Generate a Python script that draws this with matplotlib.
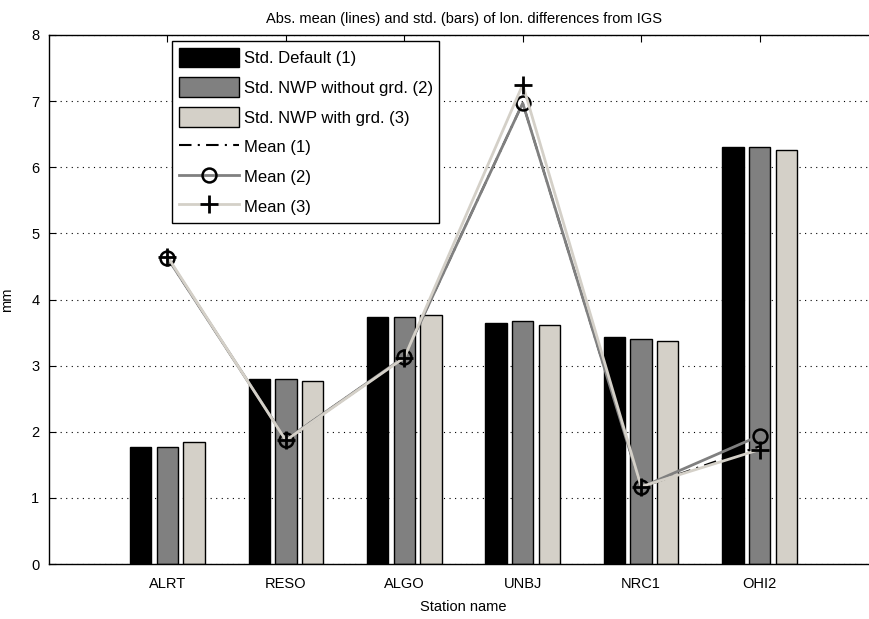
import matplotlib
matplotlib.use("Agg")
import matplotlib.pyplot as plt
import numpy as np

stations = ["ALRT", "RESO", "ALGO", "UNBJ", "NRC1", "OHI2"]
std_default = [1.77, 2.80, 3.74, 3.65, 3.44, 6.30]
std_nwp_nogrd = [1.77, 2.80, 3.74, 3.67, 3.41, 6.30]
std_nwp_grd = [1.84, 2.77, 3.77, 3.62, 3.37, 6.26]
mean_default = [4.63, 1.88, 3.13, 6.97, 1.16, 1.78]
mean_nwp_nogrd = [4.63, 1.88, 3.13, 6.97, 1.16, 1.94]
mean_nwp_grd = [4.65, 1.87, 3.12, 7.25, 1.17, 1.73]

plt.rcParams['font.family'] = ['Liberation Sans', 'DejaVu Sans']

fig = plt.figure(figsize=(8.69, 6.19), dpi=100)
ax = fig.add_axes([49/869, 55/619, 829/869, 529/619])

x = np.arange(1, len(stations) + 1)
bw = 0.18
off = 0.225
c1, c2, c3 = "#000000", "#808080", "#D4D0C8"
b1 = ax.bar(x - off, std_default, bw, color=c1, edgecolor="black", linewidth=1, label="Std. Default (1)", zorder=2)
b2 = ax.bar(x, std_nwp_nogrd, bw, color=c2, edgecolor="black", linewidth=1, label="Std. NWP without grd. (2)", zorder=2)
b3 = ax.bar(x + off, std_nwp_grd, bw, color=c3, edgecolor="black", linewidth=1, label="Std. NWP with grd. (3)", zorder=2)

l1, = ax.plot(x, mean_default, color="black", linestyle=(0, (6, 3, 1, 3)), linewidth=1.5, label="Mean (1)", zorder=3)
l2, = ax.plot(x, mean_nwp_nogrd, color=c2, linewidth=2, marker="o", markersize=10, markerfacecolor="none",
              markeredgecolor="black", markeredgewidth=1.8, label="Mean (2)", zorder=4)
l3, = ax.plot(x, mean_nwp_grd, color=c3, linewidth=2, marker="+", markersize=13,
              markeredgecolor="black", markeredgewidth=2, label="Mean (3)", zorder=5)

ax.set_xlim(0, 7)
ax.set_ylim(0, 8)
ax.set_yticks(range(0, 9))
ax.set_xticks(x)
ax.set_xticklabels(stations)
ax.yaxis.grid(True, linestyle=(0, (1, 4)), color="black", linewidth=0.8)
ax.set_axisbelow(True)
ax.tick_params(direction="in", length=5, labelsize=10.5, top=True, right=True)
ax.tick_params(axis="x", pad=9)
ax.tick_params(axis="y", pad=7)
for s in ax.spines.values():
    s.set_linewidth(1)

ax.set_xlabel("Station name", fontsize=10.5, labelpad=7)
ax.set_ylabel("mm", fontsize=10.5, labelpad=12)
ax.set_title("Abs. mean (lines) and std. (bars) of lon. differences from IGS", fontsize=10.5, pad=9)

leg = ax.legend(handles=[b1, b2, b3, l1, l2, l3], loc="upper left", bbox_to_anchor=(123/829, 1 - 6/529),
                fancybox=False, framealpha=1, edgecolor="black", fontsize=12,
                handlelength=3.6, handleheight=1.45, labelspacing=0.6, borderpad=0.4, handletextpad=0.3,
                borderaxespad=0)
leg.get_frame().set_linewidth(1)

fig.savefig("out.png", dpi=100)
